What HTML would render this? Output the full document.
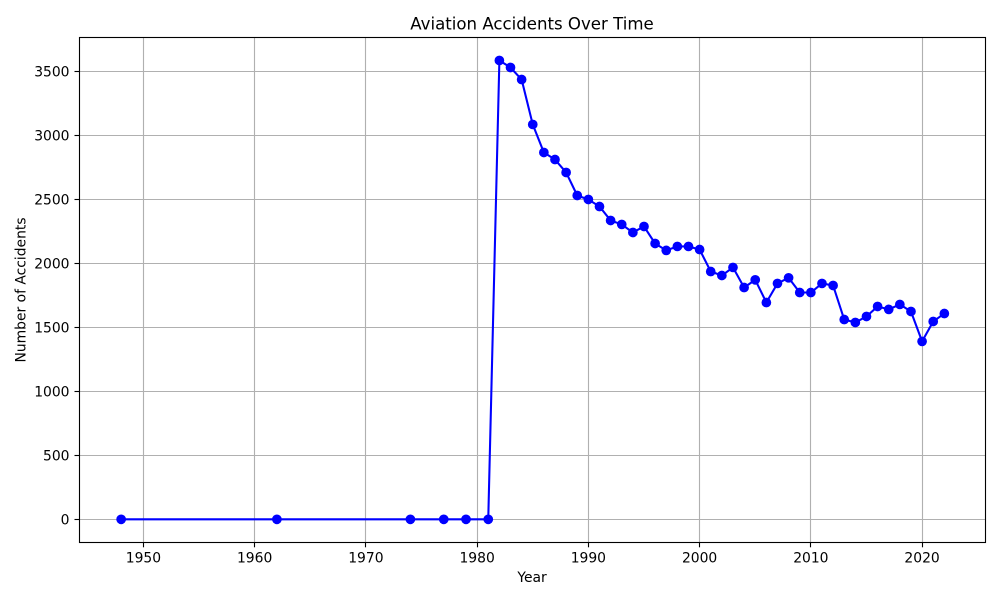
<!DOCTYPE html>
<html lang="en">
<head>
<meta charset="utf-8">
<title>Aviation Accidents Over Time</title>
<style>
html,body{margin:0;padding:0;background:#fff;}
svg{display:block;}
text{font-family:"DejaVu Sans",sans-serif;fill:#000;}
</style>
</head>
<body>
<svg id="chart" xmlns="http://www.w3.org/2000/svg" width="1000" height="600" viewBox="0 0 1000 600">
  <rect x="0" y="0" width="1000" height="600" fill="#fff"/>
  <g id="grid"></g>
  <g id="series"></g>
  <g id="ticks"></g>
  <rect x="79.5" y="37.5" width="906" height="505" fill="none" stroke="#000" stroke-width="1.11"/>
  <text x="532" y="29.5" font-size="16.6" text-anchor="middle">Aviation Accidents Over Time</text>
  <text x="532" y="582" font-size="13.89" text-anchor="middle">Year</text>
  <text x="0" y="0" transform="translate(25.5,290) rotate(-90)" font-size="13.89" text-anchor="middle">Number of Accidents</text>
</svg>
<script>
const years = [1948,1962,1974,1977,1979,1981,1982,1983,1984,1985,1986,1987,1988,1989,1990,1991,1992,1993,1994,1995,1996,1997,1998,1999,2000,2001,2002,2003,2004,2005,2006,2007,2008,2009,2010,2011,2012,2013,2014,2015,2016,2017,2018,2019,2020,2021,2022];
const accidents = [1,1,1,1,1,1,3586,3531,3437,3086,2867,2812,2711,2531,2500,2445,2336,2305,2242,2289,2156,2102,2133,2133,2109,1937,1906,1969,1812,1872,1695,1844,1888,1773,1773,1844,1828,1562,1539,1586,1664,1641,1680,1625,1391,1547,1609];
const xTickLabels = [1950,1960,1970,1980,1990,2000,2010,2020];
const yTickLabels = [0,500,1000,1500,2000,2500,3000,3500];

const NS = 'http://www.w3.org/2000/svg';
const plotLeft = 80, plotRight = 985.5, plotTop = 37.5, plotBottom = 542.3;

const xMin = Math.min.apply(null, years), xMax = Math.max.apply(null, years);
const yMin = Math.min.apply(null, accidents), yMax = Math.max.apply(null, accidents);
const xPad = (xMax - xMin) * 0.05, yPad = (yMax - yMin) * 0.05;

function xScale(v) {
  return plotLeft + (v - (xMin - xPad)) / ((xMax + xPad) - (xMin - xPad)) * (plotRight - plotLeft);
}
function yScale(v) {
  return plotBottom - (v - (yMin - yPad)) / ((yMax + yPad) - (yMin - yPad)) * (plotBottom - plotTop);
}
function snap(p) {
  return Math.floor(p) + 0.5;
}
function make(tag, attrs, parent) {
  const el = document.createElementNS(NS, tag);
  Object.keys(attrs).forEach(function (k) { el.setAttribute(k, attrs[k]); });
  parent.appendChild(el);
  return el;
}

const gridGroup = document.getElementById('grid');
const tickGroup = document.getElementById('ticks');
const seriesGroup = document.getElementById('series');

xTickLabels.forEach(function (t) {
  const x = snap(xScale(t));
  const g = make('line', {x1: x, x2: x, y1: plotTop, y2: plotBottom, stroke: '#b0b0b0', 'stroke-width': 1.11}, gridGroup);
  
  
  const m = make('line', {x1: x, x2: x, y1: plotBottom, y2: plotBottom + 5, stroke: '#000', 'stroke-width': 1.11}, tickGroup);
  
  
  const l = make('text', {x: xScale(t), y: 562.3, 'text-anchor': 'middle', 'font-size': 13.89}, tickGroup);
  l.textContent = String(t);
  
  
});

yTickLabels.forEach(function (t) {
  const y = snap(yScale(t));
  const g = make('line', {x1: plotLeft, x2: plotRight, y1: y, y2: y, stroke: '#b0b0b0', 'stroke-width': 1.11}, gridGroup);
  
  
  const m = make('line', {x1: plotLeft - 5.5, x2: plotLeft, y1: y, y2: y, stroke: '#000', 'stroke-width': 1.11}, tickGroup);
  
  
  const l = make('text', {x: 69.5, y: yScale(t) + 5, 'text-anchor': 'end', 'font-size': 13.89}, tickGroup);
  l.textContent = String(t);
  
  
});

const pointList = years.map(function (yr, i) {
  return xScale(yr).toFixed(2) + ',' + yScale(accidents[i]).toFixed(2);
}).join(' ');
const seriesLine = make('polyline', {points: pointList, fill: 'none', stroke: '#0000ff', 'stroke-width': 2.08, 'stroke-linejoin': 'round', 'stroke-linecap': 'square'}, seriesGroup);



years.forEach(function (yr, i) {
  const c = make('circle', {cx: xScale(yr), cy: yScale(accidents[i]), r: 4.86, fill: '#0000ff'}, seriesGroup);
  
  
});
</script>
</body>
</html>
